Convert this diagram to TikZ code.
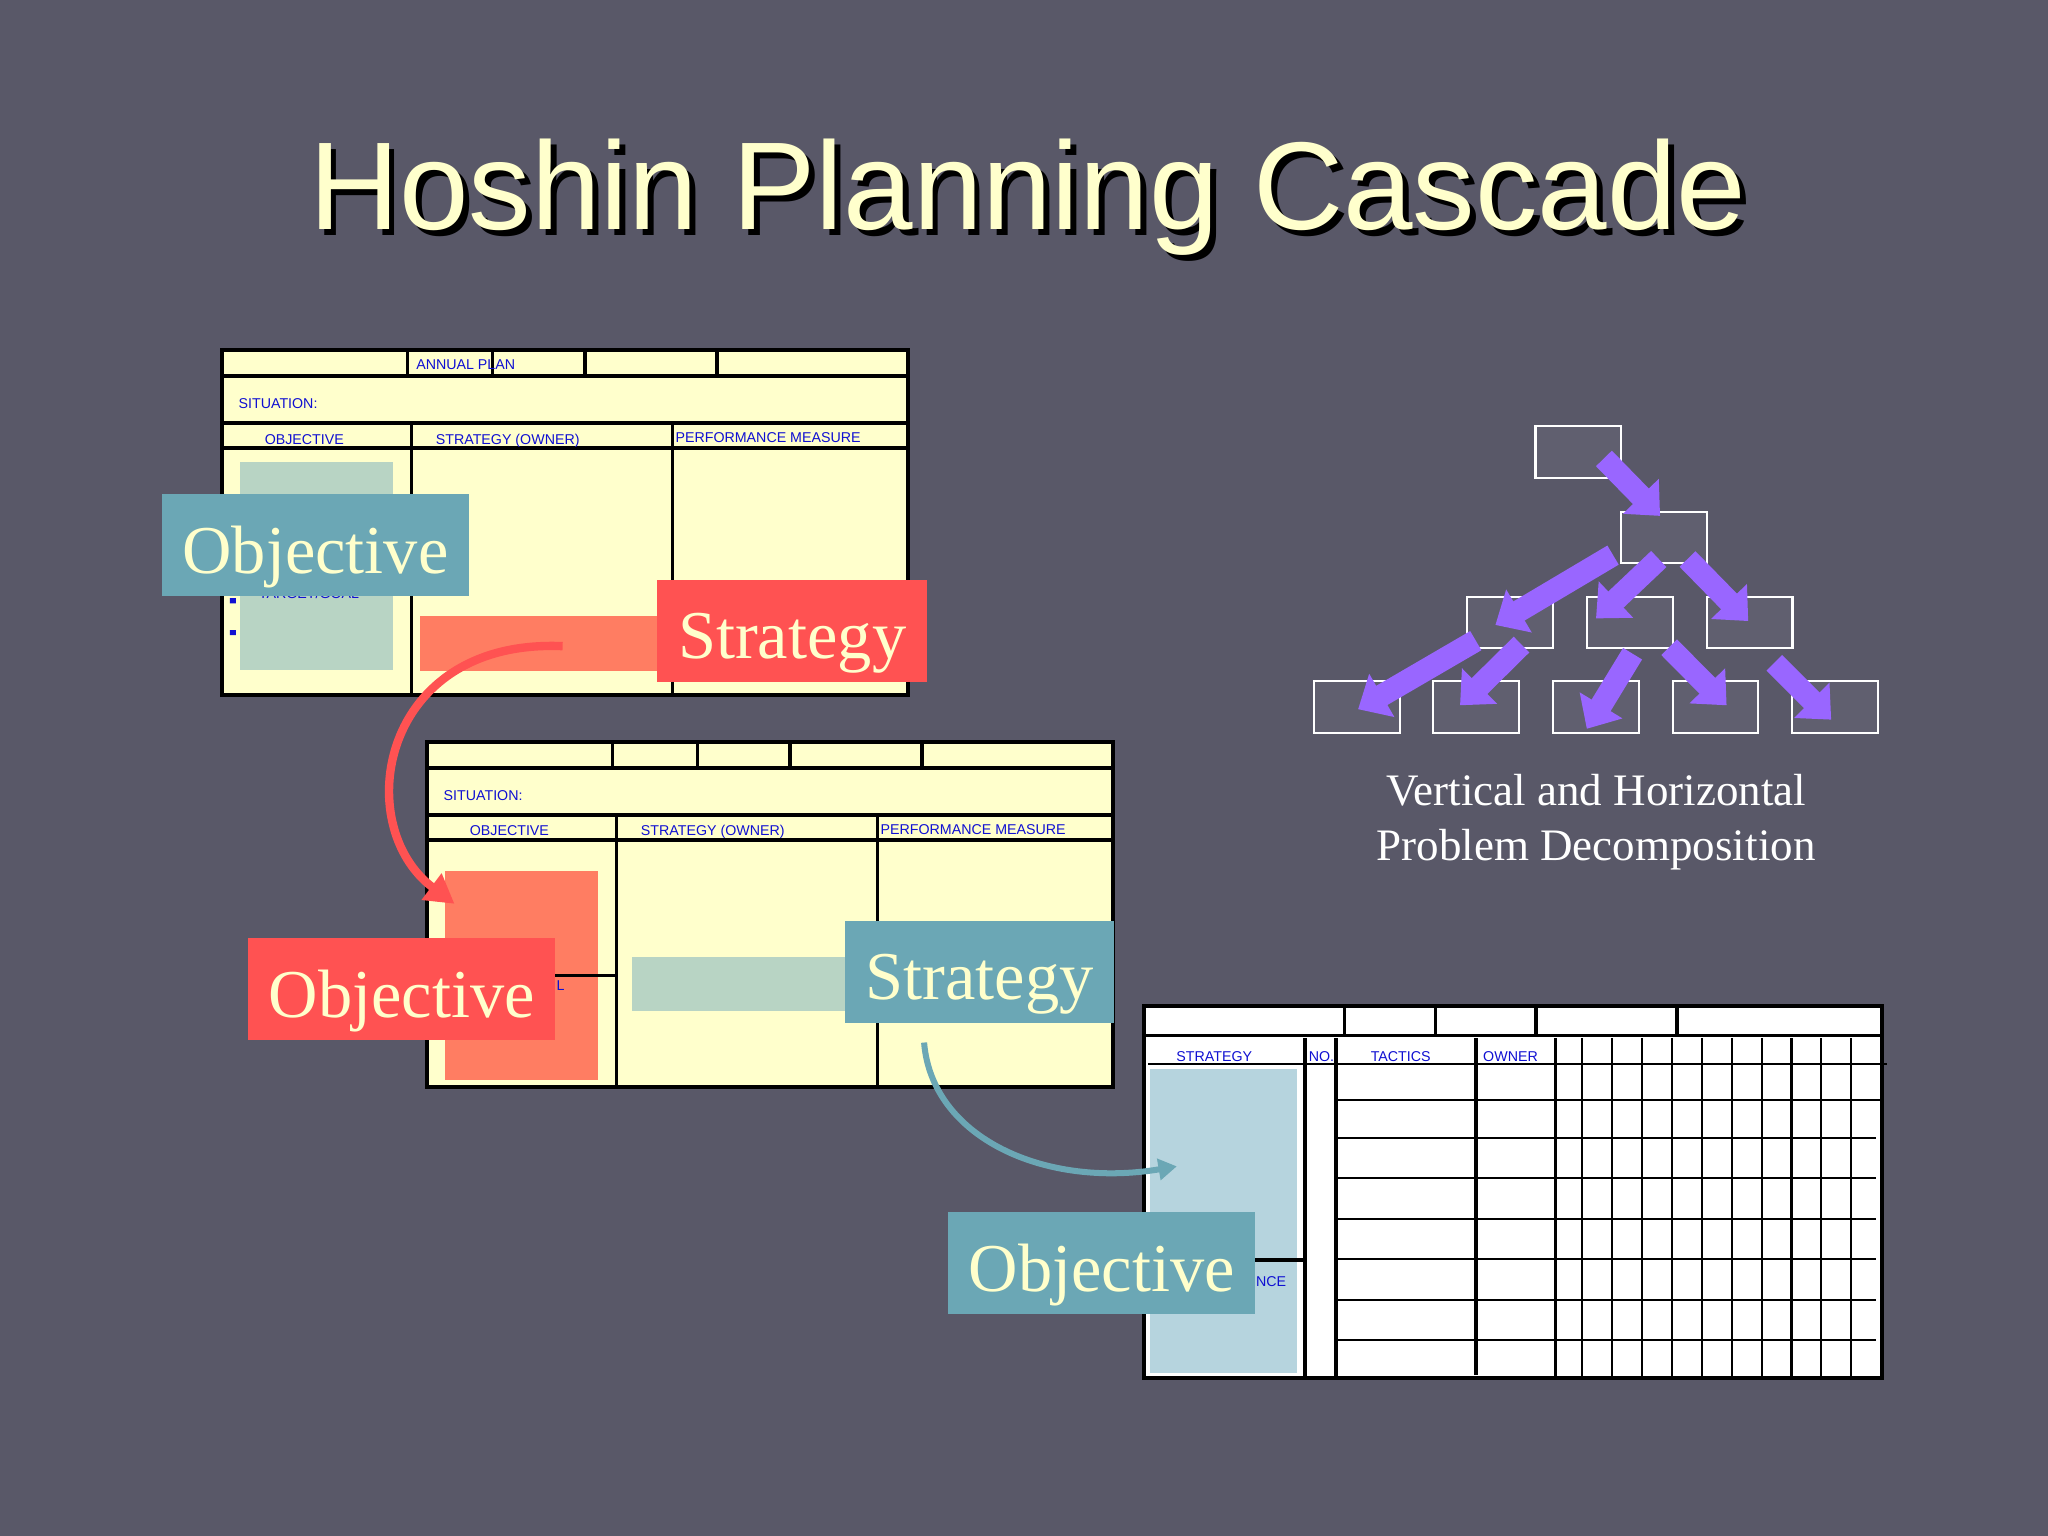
\documentclass[tikz,border=0pt]{standalone}
\usepackage{fontspec}
\setmainfont{Liberation Serif}
\newfontfamily\arialfont{Liberation Sans}
\usetikzlibrary{positioning, arrows.meta, calc}
\definecolor{slate}{RGB}{89,88,104}
\definecolor{cream}{RGB}{255,255,204}
\definecolor{formfill}{RGB}{255,255,204}
\definecolor{formblue}{RGB}{16,16,210}
\definecolor{sage}{RGB}{184,212,196}
\definecolor{salmon}{RGB}{255,125,98}
\definecolor{paleblue}{RGB}{182,212,222}
\definecolor{tagred}{RGB}{255,82,82}
\definecolor{tagteal}{RGB}{107,167,181}
\definecolor{boxfill}{RGB}{96,95,111}
\definecolor{arrowpurple}{RGB}{153,102,255}
\tikzstyle{title} = [inner sep=0pt, text=cream, font=\arialfont\fontsize{27.2pt}{32pt}\selectfont]
\tikzstyle{tag} = [inner sep=0pt, minimum height=0.78cm, text height=0.43cm, text depth=0pt, text=cream, font=\fontsize{14.9pt}{18pt}\selectfont]
\tikzstyle{formtext} = [inner sep=0pt, text=formblue, font=\arialfont\fontsize{3.1pt}{3.7pt}\selectfont]
\tikzstyle{captext} = [inner sep=0pt, text=white, font=\fontsize{9.8pt}{12pt}\selectfont]
\tikzstyle{hilite} = [inner sep=0pt, anchor=north west]
\tikzstyle{formline} = [line width=0.75pt]
\tikzstyle{outline} = [line width=0.95pt]
\tikzstyle{gridline} = [line width=0.45pt]
\tikzstyle{tbox} = [draw=white, fill=boxfill, line width=0.45pt, inner sep=0pt, minimum width=0.657cm, minimum height=0.395cm]
\tikzstyle{blockarrow} = [draw=arrowpurple, line width=0.17cm, -{Triangle[length=0.21cm, width=0.37cm]}]
\tikzstyle{cascade} = [line width=0.064cm, -{Triangle[length=0.22cm, width=0.24cm]}]

\begin{document}
\begin{tikzpicture}[x=0.01cm, y=-0.01cm, node distance=0.915cm]
\useasboundingbox (0,0) rectangle (1568,1176);
\fill[slate] (0,0) rectangle (1568,1176);

% title with shadow
\node[title, text=black, anchor=base] (titleshadow) at (791.5,180.1) {Hoshin Planning Cascade};
\node[title, anchor=base] (title) at (787,175.6) {Hoshin Planning Cascade};

% annual plan forms
\foreach \fx/\fy in {170/268, 327/568}
  \fill[formfill] (\fx,\fy) rectangle ++(525,264);
\node[hilite, fill=sage, minimum width=1.17cm, minimum height=1.59cm] (hlA) at (183,353) {};
\node[hilite, fill=salmon, minimum width=1.84cm, minimum height=0.42cm] (stripA) at (321,471) {};
\node[hilite, fill=salmon, minimum width=1.17cm, minimum height=1.60cm] (hlB) at (340,666) {};
\node[hilite, fill=sage, minimum width=1.66cm, minimum height=0.41cm] (stripB) at (483,732) {};
\foreach \fx/\fy in {170/268, 327/568} {
  \begin{scope}[shift={(\fx,\fy)}]
    \draw[formline] (0,20) -- (525,20) (0,56) -- (525,56) (0,75) -- (525,75);
    \foreach \vx in {142,207,278,379}
      \draw[formline] (\vx,0) -- (\vx,20);
    \draw[formline] (145,56) -- (145,264) (345,56) -- (345,264) (0,179) -- (145,179);
    \draw[outline] (0,0) rectangle (525,264);
    \fill[formblue] (6,190) rectangle (10.5,194) (6,214.4) rectangle (10.5,218.2);
    \node[formtext, anchor=base west] (sit\fx) at (12,45) {SITUATION:};
    \node[formtext, anchor=base] (objh\fx) at (63,72) {OBJECTIVE};
    \node[formtext, anchor=base west] (strh\fx) at (163,72) {STRATEGY (OWNER)};
    \node[formtext, anchor=base west] (perf\fx) at (346.5,70.7) {PERFORMANCE MEASURE};
  \end{scope}
}
\node[formtext, anchor=base west] (annual) at (318,283) {ANNUAL PLAN};
\node[formtext, anchor=base west] (goal) at (197.5,458) {TARGET/GOAL};
\node[formtext, anchor=base west] (goaltail) at (425.5,758) {L};

% tactics form
\fill[white] (876,770) rectangle (1441,1055);
\node[hilite, fill=paleblue, minimum width=1.12cm, minimum height=2.32cm] (hlC) at (880,818) {};
\draw[formline] (876,793) -- (1441,793);
\foreach \vx in {1029.5,1099,1176,1284}
  \draw[formline] (\vx,770) -- (\vx,793);
\draw[gridline] (879,814.5) -- (1445,814.5);
\draw[formline] (999,795) -- (999,1055) (1023,795) -- (1023,1055) (1130,795) -- (1130,1053) (1191,795) -- (1191,1055);
\foreach \vx in {1211.3,1234.2,1257.1,1280,1302.9,1325.8,1348.7,1371.6,1394.5,1417.4}
  \draw[gridline] (\vx,795) -- (\vx,1055);
\draw[gridline] (1023,842.5) -- (1441,842.5);
\foreach \hy in {871,902,933,964,995,1026}
  \draw[gridline] (1023,\hy) -- (1436,\hy);
\draw[formline] (876,964.7) -- (999,964.7);
\draw[outline] (876,770) rectangle (1441,1055);
\node[formtext, anchor=base west] (strat3h) at (900,813) {STRATEGY};
\node[formtext, anchor=base west] (noh) at (1001.4,813) {NO.};
\node[formtext, anchor=base west] (tacth) at (1048.8,813) {TACTICS};
\node[formtext, anchor=base west] (ownh) at (1134.9,813) {OWNER};
\node[formtext, anchor=base west] (perftail) at (961,985) {NCE};

% cascade arrows
\draw[cascade, draw=tagred] ($(stripA.center)+(17,2)$) .. controls +(-140,-6) and +(-80,-60) .. ($(hlB.north west)+(8,26)$);
\draw[cascade, draw=tagteal, line width=0.046cm, -{Triangle[length=0.14cm, width=0.16cm]}] ($(stripB.east)+(57,45)$) .. controls +(6,73) and +(-101,17) .. ($(hlC.north west)+(21,75)$);

% tags
\node[tag, fill=tagteal, minimum width=2.35cm] (obj1) at (241.5,417.5) {Objective};
\node[tag, fill=tagred, minimum width=2.07cm] (strat1) at (606.5,483) {Strategy};
\node[tag, fill=tagred, minimum width=2.35cm] (obj2) at (307.5,757.5) {Objective};
\node[tag, fill=tagteal, minimum width=2.06cm] (strat2) at (750,744) {Strategy};
\node[tag, fill=tagteal, minimum width=2.35cm] (obj3) at (843.5,967) {Objective};

% decomposition tree
\node[tbox] (b0) at (1208.5,346) {};
\node[tbox] (b1) at (1274,411.5) {};
\node[tbox] (b23) at (1339.5,476.5) {};
\node[tbox, left of=b23] (b22) {};
\node[tbox, left of=b22] (b21) {};
\node[tbox] (b35) at (1405,541.5) {};
\node[tbox, left of=b35] (b34) {};
\node[tbox, left of=b34] (b33) {};
\node[tbox, left of=b33] (b32) {};
\node[tbox, left of=b32] (b31) {};
\draw[blockarrow] ($(b0)+(19.5,5)$) -- ($(b1)+(-3,-16.5)$);
\draw[blockarrow] ($(b1)+(-39,13.5)$) -- ($(b21)+(-11.5,2)$);
\draw[blockarrow] ($(b1)+(-4,16.5)$) -- ($(b22)+(-26,-3)$);
\draw[blockarrow] ($(b1)+(18,16.5)$) -- ($(b23)+(-1,-1)$);
\draw[blockarrow] ($(b21)+(-26.5,14)$) -- ($(b31)+(1,1.5)$);
\draw[blockarrow] ($(b21)+(8.5,17)$) -- ($(b32)+(-12.5,-1.5)$);
\draw[blockarrow] ($(b22)+(2,24)$) -- ($(b33)+(-7,16.5)$);
\draw[blockarrow] ($(b22)+(30,19)$) -- ($(b34)+(8.5,-1.5)$);
\draw[blockarrow] ($(b23)+(19,31)$) -- ($(b35)+(-3,9.5)$);
\node[captext, anchor=base] (cap1) at (1222,616.4) {Vertical and Horizontal};
\node[captext, anchor=base] (cap2) at (1222,658.5) {Problem Decomposition};
\end{tikzpicture}
\end{document}
